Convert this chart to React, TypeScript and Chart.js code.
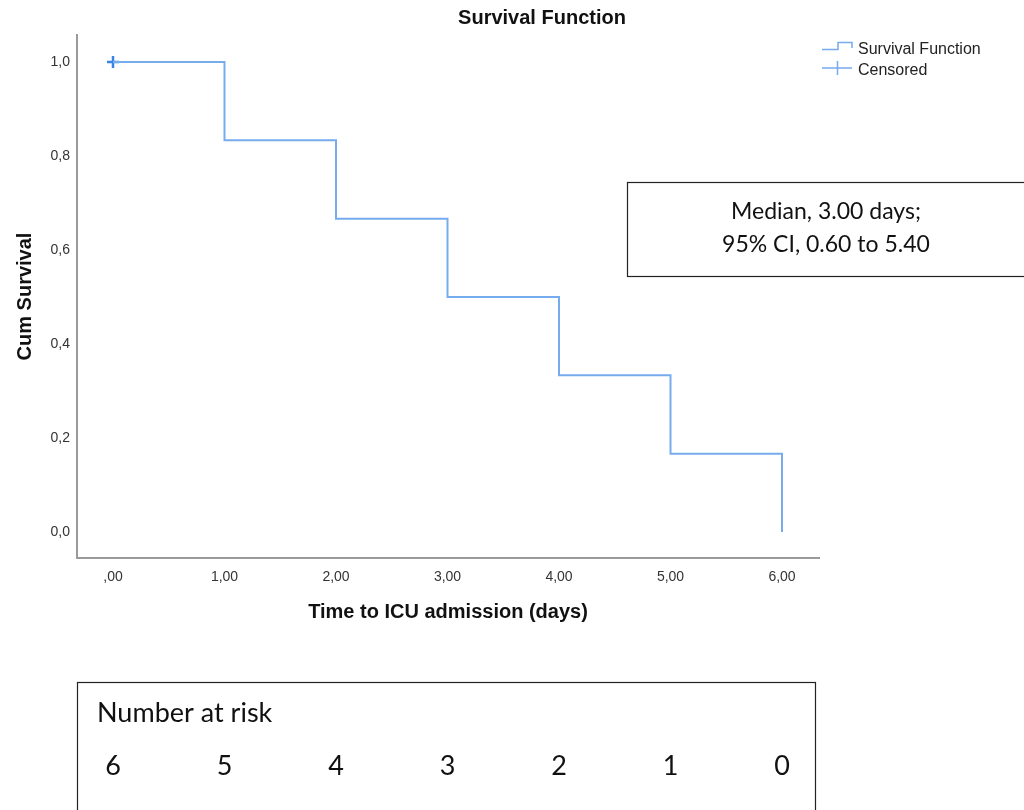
import React, { useEffect, useRef } from 'react';
import { Chart, registerables } from 'chart.js';

Chart.register(...registerables);

// ---- data ----
const survTimes = [0, 1, 2, 3, 4, 5, 6];
const survValues = [1, 0.8333, 0.6667, 0.5, 0.3333, 0.1667, 0];
const censoredTimes = [0];
const censoredValues = [1];
const xTicks = [0, 1, 2, 3, 4, 5, 6];
const xTickLabels = [',00', '1,00', '2,00', '3,00', '4,00', '5,00', '6,00'];
const yTicks = [0, 0.2, 0.4, 0.6, 0.8, 1.0];
const yTickLabels = ['0,0', '0,2', '0,4', '0,6', '0,8', '1,0'];
const riskTimes = [0, 1, 2, 3, 4, 5, 6];
const numberAtRisk = [6, 5, 4, 3, 2, 1, 0];
const legendLabels = ['Survival Function', 'Censored'];
const medianLines = ['Median, 3.00 days;', '95% CI, 0.60 to 5.40'];
const chartTitle = 'Survival Function';
const xTitle = 'Time to ICU admission (days)';
const yTitle = 'Cum Survival';
const riskTitle = 'Number at risk';

const LINE_COLOR = '#76abed';
const CENSOR_COLOR = '#3a84e4';
const AXIS_FONT = "'Liberation Sans', Arial, sans-serif";
const BOX_FONT = "Lato, 'Open Sans', sans-serif";

const overlayPlugin = {
  id: 'overlay',
  afterDraw(chart: any) {
    const ctx = chart.ctx as CanvasRenderingContext2D;
    const xs = chart.scales.x;
    ctx.save();
    // Title
    ctx.fillStyle = '#111';
    ctx.font = `bold 20px ${AXIS_FONT}`;
    ctx.textAlign = 'center';
    ctx.textBaseline = 'middle';
    ctx.fillText(chartTitle, 542, 18);

    // Legend
    ctx.strokeStyle = LINE_COLOR;
    ctx.lineWidth = 1.5;
    ctx.beginPath();
    ctx.moveTo(822, 49.5);
    ctx.lineTo(838, 49.5);
    ctx.lineTo(838, 42.5);
    ctx.lineTo(852, 42.5);
    ctx.lineTo(852, 48);
    ctx.stroke();
    ctx.beginPath();
    ctx.moveTo(822, 68);
    ctx.lineTo(852, 68);
    ctx.moveTo(837.5, 61);
    ctx.lineTo(837.5, 75);
    ctx.stroke();
    ctx.fillStyle = '#222';
    ctx.font = `16px ${AXIS_FONT}`;
    ctx.textAlign = 'left';
    ctx.textBaseline = 'middle';
    ctx.fillText(legendLabels[0], 858, 49.5);
    ctx.fillText(legendLabels[1], 858, 70.5);

    // Median box
    ctx.strokeStyle = '#222';
    ctx.lineWidth = 1.2;
    ctx.strokeRect(627.5, 182.5, 420, 94);
    ctx.fillStyle = '#111';
    ctx.font = `23px ${BOX_FONT}`;
    ctx.textAlign = 'center';
    ctx.textBaseline = 'middle';
    ctx.fillText(medianLines[0], 826, 212);
    ctx.fillText(medianLines[1], 826, 245);

    // Number at risk box
    ctx.strokeRect(77.5, 682.5, 738, 160);
    ctx.font = `27px ${BOX_FONT}`;
    ctx.textAlign = 'left';
    ctx.fillText(riskTitle, 97, 713);
    ctx.textAlign = 'center';
    numberAtRisk.forEach((n, i) => {
      ctx.fillText(String(n), xs.getPixelForValue(riskTimes[i]), 766);
    });
    ctx.restore();
  },
};

export default function App() {
  const ref = useRef<HTMLCanvasElement | null>(null);
  useEffect(() => {
    if (!ref.current) return;
    const chart = new Chart(ref.current, {
      type: 'line',
      data: {
        datasets: [
          {
            label: legendLabels[0],
            data: survTimes.map((t, i) => ({ x: t, y: survValues[i] })),
            stepped: 'before',
            borderColor: LINE_COLOR,
            borderWidth: 2,
            pointRadius: 0,
            fill: false,
          },
          {
            type: 'scatter',
            label: legendLabels[1],
            data: censoredTimes.map((t, i) => ({ x: t, y: censoredValues[i] })),
            pointStyle: 'cross',
            pointRadius: 6,
            borderColor: CENSOR_COLOR,
            backgroundColor: CENSOR_COLOR,
            borderWidth: 2.5,
            showLine: false,
          } as any,
        ],
      },
      options: {
        responsive: false,
        animation: false,
        layout: { padding: { left: 0, top: 35, right: 205, bottom: 182 } },
        plugins: {
          legend: { display: false },
          title: { display: false },
          tooltip: { enabled: false },
        },
        scales: {
          x: {
            type: 'linear',
            min: -0.3229,
            max: 6.3318,
            afterBuildTicks: (s: any) => {
              s.ticks = xTicks.map((v) => ({ value: v }));
            },
            afterFit: (s: any) => {
              s.height = 70;
            },
            grid: { display: false, drawTicks: false },
            border: { display: true, color: '#9a9a9a', width: 2 },
            ticks: {
              padding: 11,
              color: '#333',
              font: { family: AXIS_FONT, size: 14 },
              maxRotation: 0,
              autoSkip: false,
              callback: (v: any) => {
                const i = xTicks.indexOf(Number(v));
                return i >= 0 ? xTickLabels[i] : '';
              },
            },
            title: {
              display: true,
              text: xTitle,
              color: '#111',
              font: { family: AXIS_FONT, size: 20, weight: 'bold' },
              padding: { top: 0, bottom: 4 },
            },
          },
          y: {
            type: 'linear',
            min: -0.0553,
            max: 1.0574,
            afterBuildTicks: (s: any) => {
              s.ticks = yTicks.map((v) => ({ value: v }));
            },
            afterFit: (s: any) => {
              s.width = 77;
            },
            grid: { display: false, drawTicks: false },
            border: { display: true, color: '#9a9a9a', width: 2 },
            ticks: {
              padding: 7,
              color: '#333',
              font: { family: AXIS_FONT, size: 14 },
              autoSkip: false,
              callback: (v: any) => {
                const i = yTicks.findIndex((t) => Math.abs(t - Number(v)) < 1e-6);
                return i >= 0 ? yTickLabels[i] : '';
              },
            },
            title: {
              display: true,
              text: yTitle,
              color: '#111',
              font: { family: AXIS_FONT, size: 20, weight: 'bold' },
              padding: { top: 13, bottom: 0 },
            },
          },
        },
      },
      plugins: [overlayPlugin],
    });
    return () => chart.destroy();
  }, []);
  return (
    <div style={{ position: 'absolute', left: 0, top: 0, width: 1024, height: 810, background: '#fff' }}>
      <canvas ref={ref} width={1024} height={810} style={{ display: 'block' }} />
    </div>
  );
}
